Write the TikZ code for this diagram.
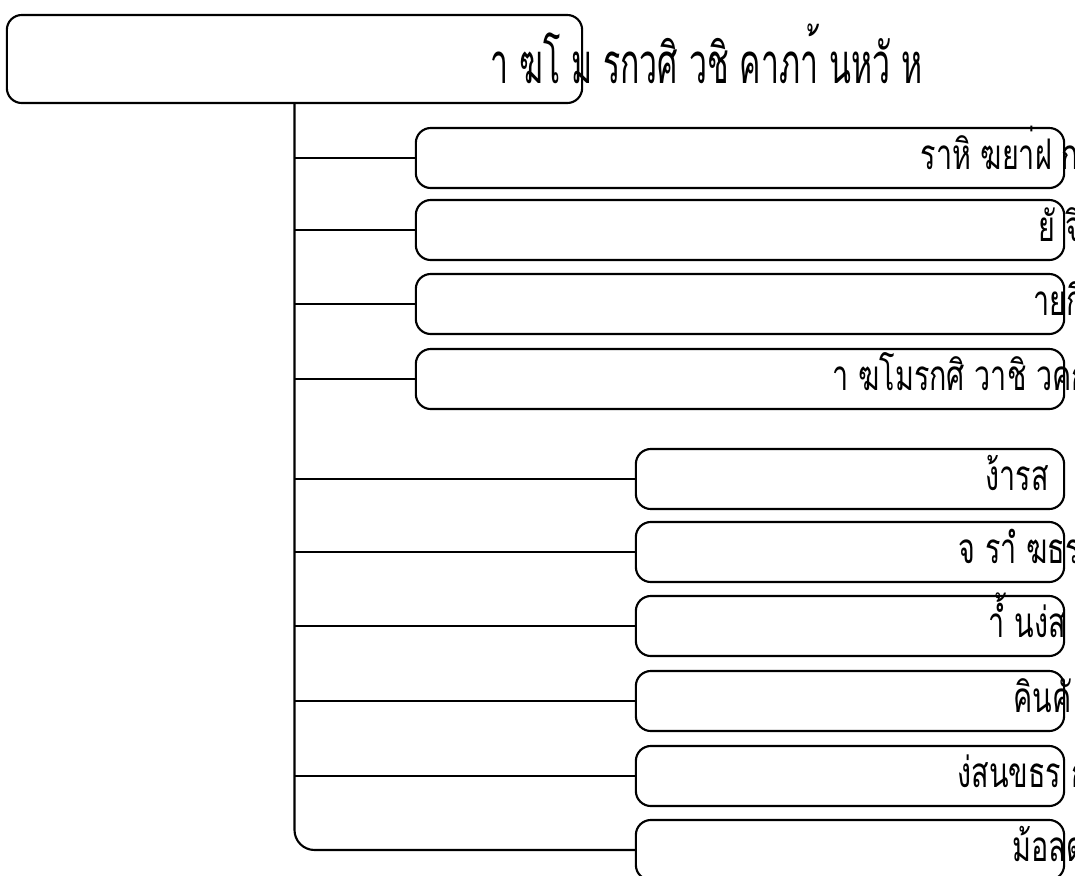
\documentclass[tikz,border=0pt]{standalone}
\usepackage{fontspec}
\newfontfamily\thaifont[Script=Thai]{Loma}
\usetikzlibrary{positioning}
\newcommand{\narrow}[2][0.68]{\scalebox{#1}[1]{#2}}
\tikzset{
  unitbox/.style={draw, line width=0.6pt, rounded corners=0.15cm, inner sep=0pt},
  topbox/.style={unitbox, minimum width=6.48cm, minimum height=0.6cm},
  lowbox/.style={unitbox, minimum width=4.28cm, minimum height=0.6cm},
  lbl/.style={anchor=base west, inner sep=0pt, font=\thaifont\fontsize{12}{14}\selectfont},
  link/.style={line width=0.6pt}
}

\begin{document}
\begin{tikzpicture}[x=0.01cm, y=-0.01cm]
  \useasboundingbox (0,0) rectangle (1075,875);

  % Head box
  \node[unitbox, minimum width=5.75cm, minimum height=0.88cm] (root) at (294.5, 59) {};
  \node[lbl, font=\thaifont\fontsize{16}{19}\selectfont] (title) at (490, 83) {\narrow[0.57]{า ฆโ ม รกวศิ วชิ คาภา้ นหวั ห}};

  % Upper units
  \node[topbox] (b1) at (740, 158) {};
  \node[topbox] (b2) at (740, 230) {};
  \node[topbox] (b3) at (740, 304) {};
  \node[topbox] (b4) at (740, 379) {};

  % Lower units
  \node[lowbox] (b5) at (850, 479) {};
  \node[lowbox] (b6) at (850, 552) {};
  \node[lowbox] (b7) at (850, 626) {};
  \node[lowbox] (b8) at (850, 701) {};
  \node[lowbox] (b9) at (850, 776) {};
  \node[lowbox] (b10) at (850, 850) {};

  % Labels
  \node[lbl] (t1) at (920, 169) {\narrow{ราหิ ฆยา่ฝ ก}};
  \node[lbl] (t2) at (1038, 241) {\narrow{ยั จิ ว}};
  \node[lbl] (t3) at (1033, 315) {\narrow{ายกึ}};
  \node[lbl] (t4) at (832, 390) {\narrow{า ฆโมรกศิ วาชิ วคกรร}};
  \node[lbl] (t5) at (985, 490) {\narrow{ง้ารส}};
  \node[lbl] (t6) at (958, 563) {\narrow{จ ราํ  ฆธร}};
  \node[lbl] (t7) at (988, 637) {\narrow{าํ้ นง่ส}};
  \node[lbl] (t8) at (1013, 712) {\narrow{คินคั}};
  \node[lbl] (t9) at (957, 787) {\narrow{ง่สนขธร ก}};
  \node[lbl] (t10) at (1012, 861) {\narrow{ม้อลด}};

  % Trunk and branches
  \draw[link, rounded corners=0.2cm] (root.south) |- (b10.west);
  \foreach \b in {b1,b2,b3,b4,b5,b6,b7,b8,b9}
    \draw[link] (root.south |- \b.west) -- (\b.west);
\end{tikzpicture}
\end{document}
